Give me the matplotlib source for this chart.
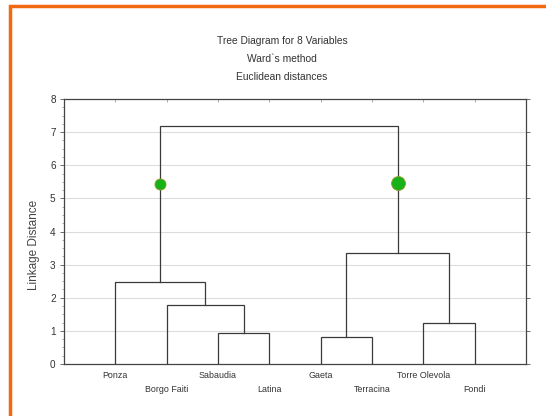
import matplotlib
matplotlib.use("Agg")
import matplotlib.pyplot as plt
from matplotlib.patches import Rectangle
import matplotlib.transforms as mtransforms

plt.rcParams['font.family'] = ['Liberation Sans', 'DejaVu Sans']

# Data
leaves = ["Ponza", "Borgo Faiti", "Sabaudia", "Latina", "Gaeta", "Terracina", "Torre Olevola", "Fondi"]
# merges: (left node, right node, height); nodes 0..7 are leaves, 8.. are clusters
merges = [
    (2, 3, 0.95),   # 8: Sabaudia-Latina
    (4, 5, 0.82),   # 9: Gaeta-Terracina
    (6, 7, 1.25),   # 10: Torre Olevola-Fondi
    (1, 8, 1.77),   # 11
    (0, 11, 2.49),  # 12
    (9, 10, 3.35),  # 13
    (12, 13, 7.20), # 14
]
dot_heights = [5.42, 5.45]
dot_sizes = [8, 10]
title_lines = ["Tree Diagram for 8 Variables", "Ward`s method", "Euclidean distances"]
ylabel = "Linkage Distance"
yticks = [0, 1, 2, 3, 4, 5, 6, 7, 8]

fig = plt.figure(figsize=(5.46, 4.16), dpi=100)
ax = fig.add_axes([64/546, 1-364/416, (526-64)/546, (364-99)/416])

line_col = "#3a3a3a"
pos = {i: (i + 1, 0.0) for i in range(len(leaves))}
for k, (a, b, h) in enumerate(merges):
    xa, ya = pos[a]
    xb, yb = pos[b]
    ax.plot([xa, xa, xb, xb], [ya, h, h, yb], color=line_col, lw=0.9, solid_joinstyle='miter', zorder=3)
    pos[len(leaves) + k] = ((xa + xb) / 2, h)

# green dots on the two main branches
top_a, top_b, _ = merges[-1]
for node, h, s in zip([top_a, top_b], dot_heights, dot_sizes):
    ax.plot(pos[node][0], h, 'o', ms=s, color="#17b217", mec="#9a9a30", mew=0.6, zorder=4)

ax.set_xlim(0, 9)
ax.set_ylim(0, 8)
ax.set_yticks(yticks)
ax.set_yticklabels([str(t) for t in yticks], fontsize=7.2, color="#333333")
ax.yaxis.grid(True, color="#dcdcdc", lw=0.8)
ax.set_axisbelow(True)
ax.tick_params(axis='y', length=3, width=0.6, color="#555555", pad=3, right=True, direction='out')
ax.set_yticks([i * 0.25 for i in range(33)], minor=True)
ax.tick_params(axis='y', which='minor', length=1.5, width=0.5, color="#888888", right=False)
ax.set_xticks(range(1, 9))
ax.set_xticklabels([])
ax.tick_params(axis='x', length=2, width=0.5, color="#888888", top=True, bottom=False, direction='in')
for sp in ax.spines.values():
    sp.set_color("#444444")
    sp.set_linewidth(0.9)

trans = mtransforms.blended_transform_factory(ax.transData, fig.transFigure)
for i, name in enumerate(leaves):
    ypx = 376 if i % 2 == 0 else 389
    ax.text(i + 1, 1 - ypx / 416, name, transform=trans, ha='center', va='center',
            fontsize=6.4, color="#333333")

ax.set_ylabel(ylabel, fontsize=8.5, color="#444444")
ax.yaxis.set_label_coords((40 - 64) / 462, 0.45)

for t, ypx in zip(title_lines, [41, 59, 77]):
    fig.text(282 / 546, 1 - ypx / 416, t, ha='center', va='center',
             fontsize=7.4, color="#333333")

# orange frame
fig.patches.append(Rectangle((10/546, -0.05), 1.1, 1 - 6/416 + 0.05, transform=fig.transFigure,
                             fill=False, edgecolor="#f26a10", lw=2.5, zorder=10))

fig.savefig("out.png", dpi=100)
